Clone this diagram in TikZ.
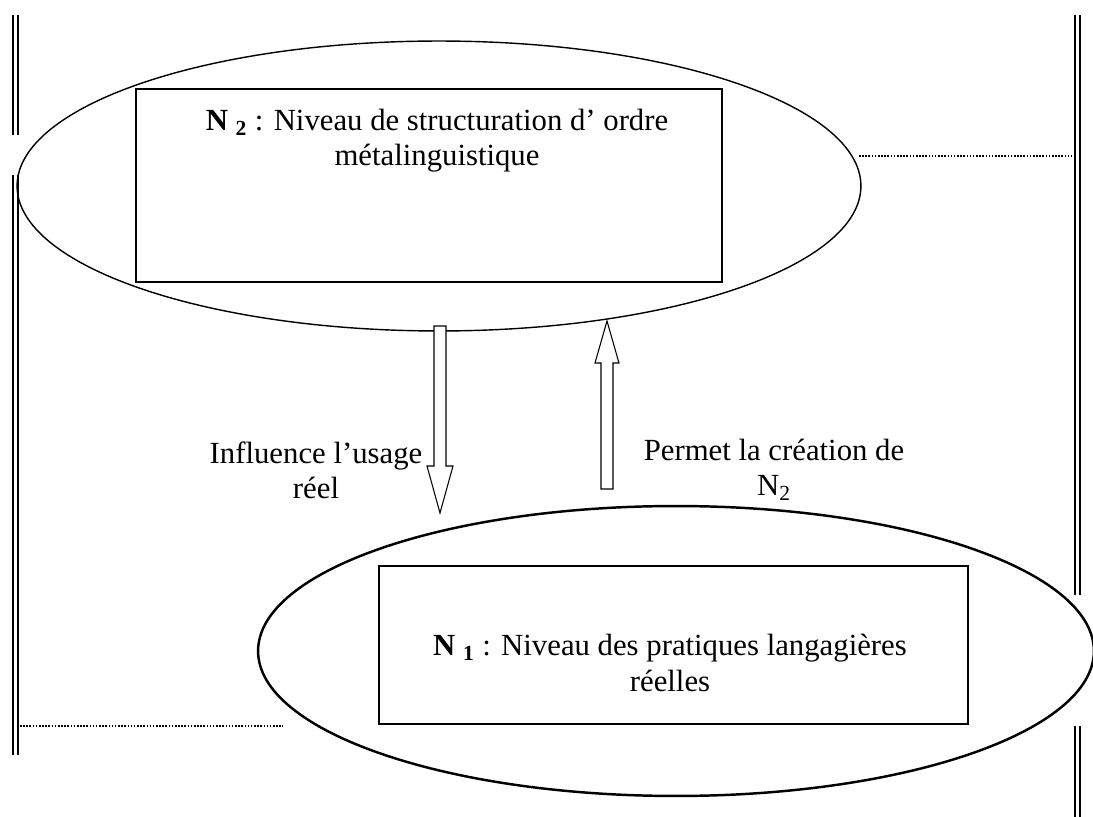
\documentclass[tikz,border=0pt]{standalone}
\usepackage{fontspec}
\setmainfont{Liberation Serif}
\usetikzlibrary{shapes.geometric}

\begin{document}
\begin{tikzpicture}[x=0.02cm, y=-0.02cm,
    zone/.style={draw, ellipse, inner sep=0},
    levelbox/.style={draw, fill=white, rectangle, inner sep=0, line width=0.8pt},
    txt/.style={font=\fontsize{17.5}{20}\selectfont, align=center, inner sep=0},
    rail/.style={line width=0.8pt},
    guide/.style={line width=1pt, dash pattern=on 0.9pt off 0.9pt},
    hollow/.style={draw, fill=white, line width=0.6pt}]
    \useasboundingbox (0,0) rectangle (1093,817);

    % margin rules
    \foreach \x in {13,18} {
        \draw[rail] (\x,15) -- (\x,135);
        \draw[rail] (\x,175) -- (\x,755);
    }
    \foreach \x in {1075,1080} {
        \draw[rail] (\x,15) -- (\x,595);
        \draw[rail] (\x,726) -- (\x,817);
    }
    \draw[guide] (859,156) -- (1075,156);
    \draw[guide] (20,726) -- (283,726);

    % the two levels
    \node[zone, line width=0.8pt, minimum width=16.88cm, minimum height=5.8cm] (topzone) at (439,186) {};
    \node[zone, line width=1.4pt, minimum width=16.72cm, minimum height=5.8cm] (lowzone) at (676,651) {};
    \node[levelbox, minimum width=11.72cm, minimum height=3.86cm] (n2box) at (429,185.5) {};
    \node[levelbox, minimum width=11.78cm, minimum height=3.16cm] (n1box) at (673.5,645) {};

    % hollow arrows
    \coordinate (downtip) at (440,513);
    \coordinate (uptip) at (607,321);
    \draw[hollow] (434,326) -- (446,326) -- (446,466) -- (453,466) -- (downtip) -- (427,466) -- (434,466) -- cycle;
    \draw[hollow] (601,489) -- (613,489) -- (613,363) -- (619,363) -- (uptip) -- (595,363) -- (601,363) -- cycle;

    % texts
    \node[txt] (n2text) at (437,141) {\textbf{N}~\textsubscript{\textbf{2}} : Niveau de structuration d’ ordre\\métalinguistique};
    \node[txt] (n1text) at (670,663) {\textbf{N}~\textsubscript{\textbf{1}} : Niveau des pratiques langagières\\réelles};
    \node[txt] (influence) at (316,470) {Influence l’usage\\réel};
    \node[txt] (permet) at (774,470) {Permet la création de\\N\textsubscript{2}};
\end{tikzpicture}
\end{document}
